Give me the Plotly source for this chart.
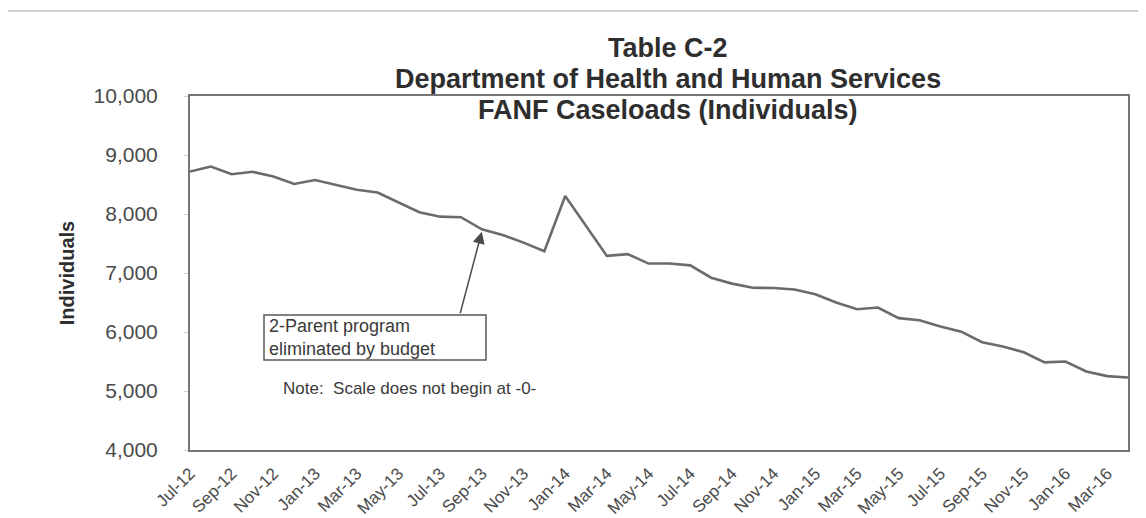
import plotly.graph_objects as go

FONT = "Liberation Sans, Arial, sans-serif"
LINE = "#6b6b6b"
AXIS = "#767676"
TEXT = "#4a4a4a"

# monthly caseloads, Jul-12 .. Apr-16
months = [
    "Jul-12", "Aug-12", "Sep-12", "Oct-12", "Nov-12", "Dec-12",
    "Jan-13", "Feb-13", "Mar-13", "Apr-13", "May-13", "Jun-13",
    "Jul-13", "Aug-13", "Sep-13", "Oct-13", "Nov-13", "Dec-13",
    "Jan-14", "Feb-14", "Mar-14", "Apr-14", "May-14", "Jun-14",
    "Jul-14", "Aug-14", "Sep-14", "Oct-14", "Nov-14", "Dec-14",
    "Jan-15", "Feb-15", "Mar-15", "Apr-15", "May-15", "Jun-15",
    "Jul-15", "Aug-15", "Sep-15", "Oct-15", "Nov-15", "Dec-15",
    "Jan-16", "Feb-16", "Mar-16", "Apr-16",
]
individuals = [
    8720, 8805, 8675, 8715, 8635, 8510,
    8575, 8495, 8410, 8365, 8195, 8030,
    7955, 7945, 7740, 7645, 7515, 7370,
    8305, 7800, 7290, 7320, 7160, 7160,
    7130, 6920, 6820, 6750, 6745, 6720,
    6640, 6500, 6385, 6415, 6235, 6200,
    6095, 6005, 5826, 5753, 5656, 5486,
    5500, 5330, 5252, 5230,
]
tick_labels = months[0:45:2]
y_ticks = [4000, 5000, 6000, 7000, 8000, 9000, 10000]
title_lines = ["Table C-2", "Department of Health and Human Services",
               "FANF Caseloads (Individuals)"]

# plot area in pixels: x 182..1120, y 88..442
def px(x):
    return (x - 182) / 938


def py(y):
    return (442 - y) / 354


fig = go.Figure(go.Scatter(
    x=months, y=individuals, mode="lines",
    line=dict(color=LINE, width=2.6),
    hoverinfo="skip", showlegend=False,
))

fig.update_layout(
    width=1146, height=518,
    paper_bgcolor="white", plot_bgcolor="white",
    font=dict(family=FONT, color=TEXT),
    margin=dict(l=182, r=26, t=88, b=76, autoexpand=False),
    showlegend=False,
)

fig.update_xaxes(
    type="category", range=[0, len(months) - 1],
    tickvals=tick_labels, ticktext=tick_labels, tickangle=-45,
    tickfont=dict(size=17, color=TEXT), ticks="", ticklabelstandoff=5,
    showgrid=False, zeroline=False,
    showline=True, linecolor=AXIS, linewidth=2, mirror=True,
)
fig.update_yaxes(
    range=[4000, 10000], tickvals=y_ticks, tickformat=",",
    tickfont=dict(size=21, color=TEXT),
    ticks="outside", ticklen=4, tickcolor="#d0d0d0", ticklabelstandoff=22,
    showgrid=False, zeroline=False,
    showline=True, linecolor=AXIS, linewidth=2, mirror=True,
    title=dict(text="<b>Individuals</b>", font=dict(size=20, color="#2e2e2e"),
               standoff=14),
)

# three title lines; the lower one sits inside the plot frame
for txt, yy in zip(title_lines, [40, 71, 102]):
    fig.add_annotation(text="<b>" + txt + "</b>", xref="paper", yref="paper",
                       x=px(660), y=py(yy), xanchor="center", yanchor="middle",
                       showarrow=False, font=dict(size=27, color="#2e2e2e"))

# callout box
fig.add_shape(type="rect", xref="paper", yref="paper",
              x0=px(256), x1=px(478), y0=py(352), y1=py(307),
              line=dict(color="#5a5a5a", width=1.5), fillcolor="white")
fig.add_annotation(text="2-Parent program<br>eliminated by budget",
                   xref="paper", yref="paper", x=px(259), y=py(329.5),
                   xanchor="left", yanchor="middle", align="left", showarrow=False,
                   font=dict(size=18, color="#3a3a3a"))
fig.add_annotation(x="Sep-13", y=7700, xref="x", yref="y", text="",
                   showarrow=True, arrowhead=2, arrowsize=1.6, arrowwidth=1.5,
                   arrowcolor="#4a4a4a", ax=-22, ay=83)
fig.add_annotation(text="Note:  Scale does not begin at -0-", xref="paper", yref="paper",
                   x=px(273), y=py(380),
                   xanchor="left", yanchor="middle", showarrow=False,
                   font=dict(size=17, color="#3a3a3a"))

# faint scan edge at the top of the page
fig.add_shape(type="line", xref="paper", yref="paper", x0=px(0), x1=px(1146),
              y0=py(3), y1=py(3), line=dict(color="#cfcfcf", width=2))

fig.write_html("out.html")
